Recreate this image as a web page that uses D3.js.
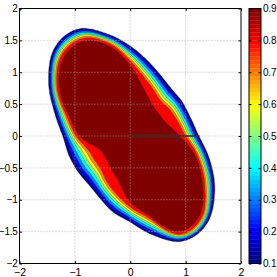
<!DOCTYPE html>
<html>
<head>
<meta charset="utf-8">
<script src="https://cdn.jsdelivr.net/npm/d3@7"></script>
<style>
  body { margin: 0; background: #fff; }
  text { font-family: "Liberation Sans", Arial, sans-serif; font-size: 10.5px; fill: #000; }
  .ylab text { font-size: 10px; letter-spacing: -0.3px; }
  .cblab text { font-size: 10px; letter-spacing: -0.2px; }
</style>
</head>
<body>
<div id="chart"></div>
<script>
// radii of three contour levels, every 15 degrees (counter-clockwise from +x)
const angles = d3.range(0, 360, 15)
const rOuter = [1.24, 1.125, 1.08, 1.05, 1.10, 1.22, 1.41, 1.66, 1.93, 1.94, 1.70, 1.415,
                1.22, 1.15, 1.10, 1.07, 1.115, 1.23, 1.35, 1.61, 1.90, 1.95, 1.76, 1.49]   // level 0.1
const rRed   = [1.00, 0.89, 0.83, 0.78, 0.84, 0.96, 1.18, 1.51, 1.765, 1.77, 1.53, 1.19,
                0.98, 0.80, 0.75, 0.75, 0.84, 0.95, 1.12, 1.34, 1.78, 1.82, 1.56, 1.27]    // level 0.8
const rInner = [0.90, 0.70, 0.63, 0.62, 0.68, 0.82, 1.11, 1.46, 1.72, 1.72, 1.48, 1.13,
                0.92, 0.644, 0.56, 0.576, 0.637, 0.756, 1.04, 1.29, 1.73, 1.77, 1.51, 1.22] // level 0.9

const levels = [0.1, 0.2, 0.3, 0.4, 0.5, 0.6, 0.7, 0.8, 0.9]
const xTicks = [-2, -1, 0, 1, 2]
const yTicks = [-2, -1.5, -1, -0.5, 0, 0.5, 1, 1.5, 2]
const cbTicks = [0.1, 0.2, 0.3, 0.4, 0.5, 0.6, 0.7, 0.8, 0.9]
const rayLine = [[0, 0], [1.25, 0]]

const W = 277, H = 277
const plot = { left: 19.5, right: 241, top: 8.5, bottom: 263.5 }
const cb = { left: 249, right: 261 }

const svg = d3.select("#chart").append("svg")
  .attr("width", W).attr("height", H)

const x = d3.scaleLinear().domain([-2, 2]).range([plot.left, plot.right])
const y = d3.scaleLinear().domain([-2, 2]).range([plot.bottom, plot.top])
const cbScale = d3.scaleLinear().domain([0.1, 0.9]).range([plot.bottom, plot.top])

// matlab jet
function jet(t) {
  const c = v => Math.max(0, Math.min(1, v))
  const r = c(1.5 - Math.abs(4 * t - 3)), g = c(1.5 - Math.abs(4 * t - 2)), b = c(1.5 - Math.abs(4 * t - 1))
  return d3.rgb(r * 255, g * 255, b * 255).toString()
}
const levelColor = v => jet((v - 0.1) / 0.8)

// periodic catmull-rom through the radii
function radiusAt(arr, deg) {
  const n = arr.length, s = deg / 15, i = Math.floor(s), t = s - i
  const p0 = arr[(i - 1 + n) % n], p1 = arr[i % n], p2 = arr[(i + 1) % n], p3 = arr[(i + 2) % n]
  return 0.5 * (2 * p1 + (-p0 + p2) * t + (2 * p0 - 5 * p1 + 4 * p2 - p3) * t * t + (-p0 + 3 * p1 - 3 * p2 + p3) * t * t * t)
}

// grid table for d3.contours, built from the radii
const step = 0.02
const n = Math.round(4 / step) + 1
const values = new Float64Array(n * n)
for (let j = 0; j < n; j++) {
  for (let i = 0; i < n; i++) {
    const px = -2 + i * step, py = -2 + j * step
    const r = Math.hypot(px, py)
    let deg = Math.atan2(py, px) * 180 / Math.PI
    if (deg < 0) deg += 360
    const ro = radiusAt(rOuter, deg), r8 = radiusAt(rRed, deg), r9 = radiusAt(rInner, deg)
    let z
    if (r <= r9) z = Math.min(1, 0.9 + (r9 - r) * 2)
    else if (r <= r8) z = 0.9 - 0.1 * (r - r9) / (r8 - r9)
    else if (r <= ro) z = 0.8 - 0.7 * (r - r8) / (ro - r8)
    else z = Math.max(0, 0.1 - (r - ro) * 2)
    values[i + j * n] = z
  }
}

const contours = d3.contours().size([n, n]).thresholds(levels)(values)
const gx = c => x(-2 + (c - 0.5) * step)
const gy = c => y(-2 + (c - 0.5) * step)
const path = d3.geoPath(d3.geoTransform({
  point: function (px, py) { this.stream.point(gx(px), gy(py)) }
}))

svg.append("clipPath").attr("id", "clip")
  .append("rect")
  .attr("x", plot.left).attr("y", plot.top)
  .attr("width", plot.right - plot.left).attr("height", plot.bottom - plot.top)

const g = svg.append("g").attr("clip-path", "url(#clip)")

g.selectAll("path.fill").data(contours).join("path")
  .attr("class", "fill")
  .attr("d", path)
  .attr("fill", d => levelColor(d.value))

g.selectAll("path.line").data(contours).join("path")
  .attr("class", "line")
  .attr("d", path)
  .attr("fill", "none")
  .attr("stroke", "#3a3a3a")
  .attr("stroke-opacity", 0.6)
  .attr("stroke-width", 0.6)

// dotted grid
g.selectAll("line.gx").data(xTicks.slice(1, -1)).join("line")
  .attr("x1", d => x(d)).attr("x2", d => x(d))
  .attr("y1", plot.top).attr("y2", plot.bottom)
  .attr("stroke", "#aaa").attr("stroke-dasharray", "1,2").attr("stroke-width", 0.8)
g.selectAll("line.gy").data(yTicks.slice(1, -1)).join("line")
  .attr("x1", plot.left).attr("x2", plot.right)
  .attr("y1", d => y(d)).attr("y2", d => y(d))
  .attr("stroke", "#aaa").attr("stroke-dasharray", "1,2").attr("stroke-width", 0.8)

// the line from the centre
g.append("line")
  .attr("x1", x(rayLine[0][0])).attr("y1", y(rayLine[0][1]))
  .attr("x2", x(rayLine[1][0])).attr("y2", y(rayLine[1][1]))
  .attr("stroke", "#2b2b2b").attr("stroke-width", 1.3)

// axes
function styleAxis(sel) {
  sel.select(".domain").remove()
  sel.selectAll(".tick line").attr("stroke", "#000")
  sel.selectAll("text").attr("font-size", null).attr("font-family", null)
}
svg.append("g").attr("transform", `translate(0,${plot.bottom})`)
  .call(d3.axisBottom(x).tickValues(xTicks).tickSize(-2.5).tickPadding(5).tickFormat(d3.format("")))
  .call(styleAxis)
svg.append("g").attr("transform", `translate(0,${plot.top})`)
  .call(d3.axisTop(x).tickValues(xTicks).tickSize(-2.5).tickFormat(""))
  .call(styleAxis)
svg.append("g").attr("class", "ylab").attr("transform", `translate(${plot.left},0)`)
  .call(d3.axisLeft(y).tickValues(yTicks).tickSize(-2.5).tickPadding(2).tickFormat(d3.format("")))
  .call(styleAxis)
svg.append("g").attr("transform", `translate(${plot.right},0)`)
  .call(d3.axisRight(y).tickValues(yTicks).tickSize(-2.5).tickFormat(""))
  .call(styleAxis)

svg.append("rect")
  .attr("x", plot.left).attr("y", plot.top)
  .attr("width", plot.right - plot.left).attr("height", plot.bottom - plot.top)
  .attr("fill", "none").attr("stroke", "#000").attr("stroke-width", 1)

// colorbar
const nColors = 64
const cbStep = 0.8 / nColors
svg.append("g").selectAll("rect").data(d3.range(nColors)).join("rect")
  .attr("x", cb.left).attr("width", cb.right - cb.left)
  .attr("y", i => cbScale(0.1 + (i + 1) * cbStep))
  .attr("height", i => cbScale(0.1 + i * cbStep) - cbScale(0.1 + (i + 1) * cbStep) + 0.3)
  .attr("fill", i => jet(i / (nColors - 1)))

svg.append("g").attr("class", "cblab").attr("transform", `translate(${cb.right},0)`)
  .call(d3.axisRight(cbScale).tickValues(cbTicks).tickSize(-2.5).tickPadding(2).tickFormat(d3.format("")))
  .call(styleAxis)
svg.append("g").attr("transform", `translate(${cb.left},0)`)
  .call(d3.axisLeft(cbScale).tickValues(cbTicks).tickSize(-2.5).tickFormat(""))
  .call(styleAxis)

svg.append("rect")
  .attr("x", cb.left).attr("y", plot.top)
  .attr("width", cb.right - cb.left).attr("height", plot.bottom - plot.top)
  .attr("fill", "none").attr("stroke", "#000").attr("stroke-width", 1)
</script>
</body>
</html>
